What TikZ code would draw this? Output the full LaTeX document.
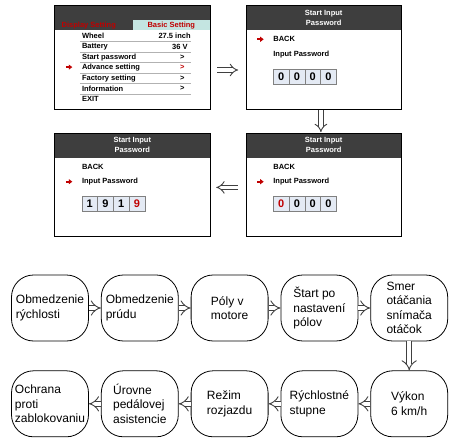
\documentclass[tikz,border=0pt]{standalone}
\usepackage{fontspec}
\setmainfont{Liberation Sans}
\usetikzlibrary{arrows.meta,positioning}

\definecolor{hdrgray}{HTML}{3E3E3E}
\definecolor{lcdred}{HTML}{C00000}
\definecolor{tabteal}{HTML}{C4E5E1}
\definecolor{digblue}{HTML}{E4EAF4}

\begin{document}
\begin{tikzpicture}[x=1pt,y=-1pt,node distance=24pt and 36pt,
  screen/.style={minimum width=155pt,minimum height=103pt,inner sep=0pt},
  scrframe/.style={draw,line width=0.9pt},
  lcd/.style={font=\fontsize{7.5}{10}\selectfont\bfseries,inner sep=0pt},
  redarr/.style={lcdred,line width=1.6pt,-{Triangle[length=3.5pt,width=5pt]}},
  digbox/.style={draw=gray,fill=digblue,minimum width=15.75pt,minimum height=15pt,inner sep=0pt,font=\fontsize{11}{11}\selectfont\bfseries},
  hollow/.style={draw=black!75,double,double distance=3.5pt,line width=0.9pt,-{Implies}},
  blk/.style={draw,line width=0.8pt,rounded corners=22pt,minimum width=77pt,minimum height=66pt,align=left,inner sep=2pt,font=\fontsize{12}{14.5}\selectfont},
  flow/.style={draw=black!75,double,double distance=4.5pt,line width=0.9pt,-{Implies}}]
\useasboundingbox (0,0) rectangle (455,441);

% display screens
\node[screen] (menu) at (132.5,57.5) {};
\node[screen,right=of menu] (pwa) {};
\node[screen,below=of pwa] (pwb) {};
\node[screen,left=of pwb] (pwc) {};

\begin{scope}[shift={(menu.north west)}]
  \fill[hdrgray] (0,0) rectangle (155,24.5);
  \fill[tabteal] (78,14) rectangle (155,24.5);
  \node[lcd,text=lcdred] (tab1) at (34,19.5) {Display Setting};
  \node[lcd,text=lcdred] (tab2) at (116.5,19.5) {Basic Setting};
  \foreach \lbl/\val/\vx [count=\i from 0] in {Wheel/27.5 inch/136,Battery/36 V/133,Start password/>/130,Advance setting/{\textcolor{lcdred}{>}}/130,Factory setting/>/130,Information/>/130}{
    \node[lcd,anchor=west] (row\i) at (27,30.5+10.45*\i) {\lbl};
    \node[lcd,anchor=east] (val\i) at (\vx,30.5+10.45*\i) {\val};
    \draw[gray!60] (25,35.8+10.45*\i) -- (136,35.8+10.45*\i);
  }
  \node[lcd,anchor=west] (exit) at (27,93) {EXIT};
  \draw[redarr] (11,61.3) -- ++(6.5,0);
\end{scope}

\foreach \s/\ay/\da/\db/\dc/\dd in {pwa/33.5/0/0/0/0,pwb/48.5/{\textcolor{lcdred}{0}}/0/0/0,pwc/48.5/1/9/1/{\textcolor{lcdred}{9}}}{
  \begin{scope}[shift={(\s.north west)}]
    \fill[hdrgray] (0,0) rectangle (155,24.5);
    \node[lcd,text=white,align=center] (\s-hd) at (77.5,11.8) {Start Input\\Password};
    \node[lcd,anchor=west] (\s-back) at (27,33.5) {BACK};
    \node[lcd,anchor=west] (\s-inp) at (27,48.5) {Input Password};
    \coordinate (\s-arr) at (11,\ay);
    \draw[redarr] (\s-arr) -- ++(6.5,0);
    \foreach \d [count=\k] in {\da,\db,\dc,\dd}
      \node[digbox] (\s-d\k) at (27+15.75*\k-7.875,70.5) {\d};
  \end{scope}
}
\foreach \s in {menu,pwa,pwb,pwc}
  \draw[scrframe] (\s.north west) rectangle (\s.south east);

\draw[hollow,shorten <=7pt,shorten >=8pt] ([yshift=-12.5pt]menu.east) -- ([yshift=-12.5pt]pwa.west);
\draw[hollow,shorten <=1pt,shorten >=1pt] ([xshift=-3pt]pwa.south) -- ([xshift=-3pt]pwb.north);
\draw[hollow,shorten <=8pt,shorten >=6pt] ([yshift=-2.5pt]pwb.west) -- ([yshift=-2.5pt]pwc.east);

% settings flow
\node[blk] (obrych) at (50,308) {Obmedzenie\\rýchlosti};
\node[blk,right=12pt of obrych] (obprud) {Obmedzenie\\prúdu};
\node[blk,right=12pt of obprud] (poly) {Póly v\\motore};
\node[blk,right=12pt of poly] (start) {Štart po\\nastavení\\pólov};
\node[blk,right=12pt of start] (smer) {Smer\\otáčania\\snímača\\otáčok};
\node[blk,below=29pt of smer] (vykon) {Výkon\\6 km/h};
\node[blk,left=12pt of vykon] (stupne) {Rýchlostné\\stupne};
\node[blk,left=12pt of stupne] (rozjazd) {Režim\\rozjazdu};
\node[blk,left=12pt of rozjazd] (pas) {Úrovne\\pedálovej\\asistencie};
\node[blk,left=12pt of pas] (ochrana) {Ochrana\\proti\\zablokovaniu};
\draw[flow](obrych)--(obprud);\draw[flow](obprud)--(poly);\draw[flow](poly)--(start);\draw[flow](start)--(smer);
\draw[flow](smer)--(vykon);
\draw[flow](vykon)--(stupne);\draw[flow](stupne)--(rozjazd);\draw[flow](rozjazd)--(pas);\draw[flow](pas)--(ochrana);
\end{tikzpicture}
\end{document}
